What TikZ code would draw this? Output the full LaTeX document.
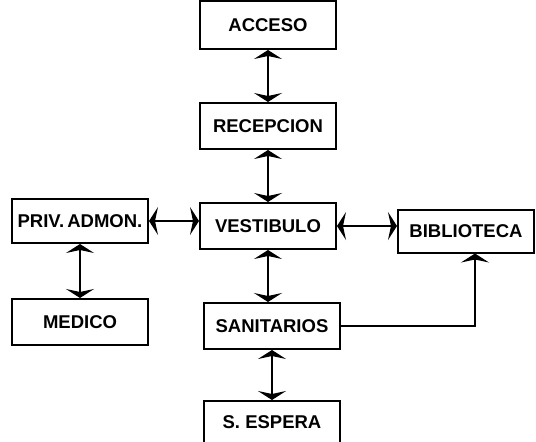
\documentclass[tikz,border=0pt]{standalone}
\usepackage{fontspec}
\setmainfont{Liberation Sans}
\usepackage{tikz}
\usetikzlibrary{positioning,arrows.meta}

\begin{document}
\begin{tikzpicture}[
  x=1pt, y=-1pt,
  node distance=52pt and 50pt,
  >={Stealth[length=9pt,width=28pt,inset=3pt]},
  room/.style={rectangle, draw, line width=2pt, minimum width=136pt, minimum height=46pt, inner sep=2pt, align=center, font=\fontsize{18.5}{21}\selectfont\bfseries},
  link/.style={<->, line width=1.4pt},
  onelink/.style={->, line width=1.4pt}
]
\useasboundingbox (0,0) rectangle (536,442);

% Central column
\node[room] (vest) at (268,226) {VESTIBULO};
\node[room, above=of vest] (recep) {RECEPCION};
\node[room, above=of recep, minimum height=48pt] (acceso) {ACCESO};
\node[room, below=of vest, xshift=4pt] (sanit) {SANITARIOS};
\node[room, below=of sanit, minimum height=42pt, yshift=2pt] (espera) {S.\ ESPERA};

% Side rooms
\node[room, left=of vest, yshift=5pt, minimum height=44pt] (priv) {PRIV.\,ADMON.};
\node[room, below=54pt of priv] (medico) {MEDICO};
\node[room, right=60pt of vest, yshift=-5pt, minimum height=43pt] (biblio) {BIBLIOTECA};

% Connections
\draw[link] (acceso) -- (recep);
\draw[link] (recep) -- (vest);
\draw[link] (vest) -- (sanit.north -| vest);
\draw[link] (sanit) -- (espera);
\draw[link] (priv) -- (vest.west |- priv);
\draw[link] (vest) -- (biblio.west |- vest);
\draw[link] (priv) -- (medico);
\draw[onelink] (sanit.east) -| ([xshift=9pt]biblio.south);

\end{tikzpicture}
\end{document}
